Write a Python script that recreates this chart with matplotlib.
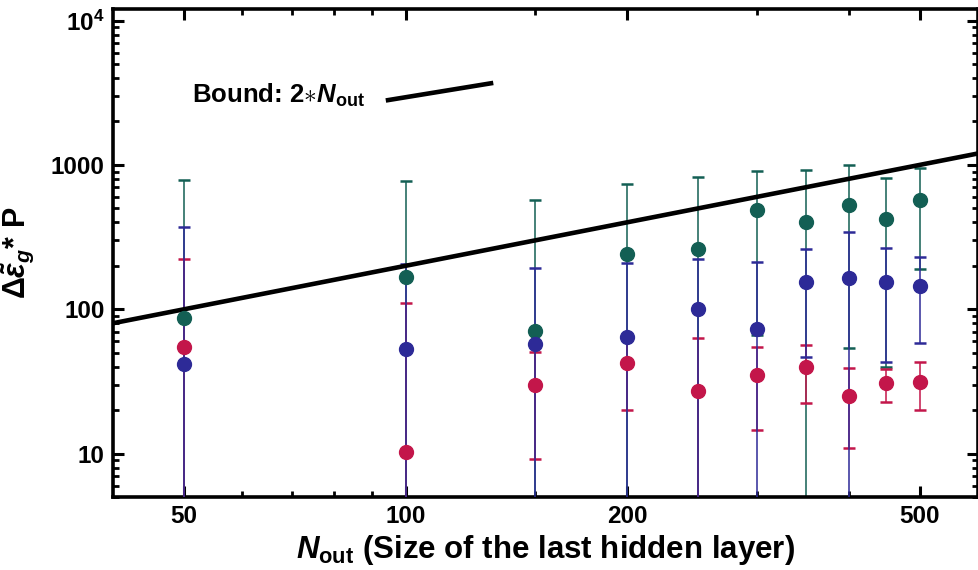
import numpy as np
import matplotlib
matplotlib.use("Agg")
import matplotlib.pyplot as plt

plt.rcParams['font.family'] = ['Liberation Sans', 'DejaVu Sans']
plt.rcParams['font.weight'] = 'bold'
plt.rcParams['axes.labelweight'] = 'bold'
plt.rcParams['mathtext.fontset'] = 'custom'
plt.rcParams['mathtext.rm'] = 'Liberation Sans:bold'
plt.rcParams['mathtext.it'] = 'Liberation Sans:italic:bold'
plt.rcParams['mathtext.bf'] = 'Liberation Sans:bold'

# data
n_out = [50, 100, 150, 200, 250, 300, 350, 400, 450, 500]

green_mean = [87, 167, 71, 241, 261, 487, 402, 527, 425, 571]
green_err = [700, 607, 500, 497, 565, 421, 520, 473, 385, 382]

blue_mean = [42, 53, 57, 64, 100, 73, 154, 164, 154, 144]
blue_err = [329, 152, 136, 145, 122, 139, 107, 179, 111, 86]

red_mean = [54.5, 10.2, 29.7, 42.2, 27, 34.8, 39.5, 24.9, 30.6, 31.4]
red_err = [168, 100, 20.5, 22, 36, 20.3, 17, 14, 8, 11.4]

x_ticks = [50, 100, 200, 500]
y_ticks = [10, 100, 1000, 10000]
y_labels = ['10', '100', '1000', r'$10^4$']

green = '#135f54'
blue = '#2d2a97'
red = '#c3164a'

fig = plt.figure(figsize=(9.79, 5.70), dpi=100)
ax = fig.add_axes([0.1154, 0.128, 0.8836, 0.856])
ax.set_xscale('log')
ax.set_yscale('log')

# bound line 2*N_out
x_line = np.array([40, 600])
ax.plot(x_line, 2 * x_line, color='black', lw=3.3, zorder=5)

for mean, err, col, z in [(green_mean, green_err, green, 2),
                          (red_mean, red_err, red, 3),
                          (blue_mean, blue_err, blue, 4)]:
    ax.errorbar(n_out, mean, yerr=err, fmt='none', ecolor=col, elinewidth=1.1,
                capsize=4, capthick=1.8, zorder=z)
for mean, col in [(green_mean, green), (red_mean, red), (blue_mean, blue)]:
    ax.plot(n_out, mean, 'o', color=col, ms=10, zorder=6)

ax.set_xlim(40, 600)
ax.set_ylim(5, 12000)

ax.set_xticks(x_ticks)
ax.set_xticklabels([str(t) for t in x_ticks])
ax.set_xticks([60, 70, 80, 90, 150, 300, 400], minor=True)
ax.set_xticklabels([], minor=True)
ax.set_yticks(y_ticks)
ax.set_yticklabels(y_labels)
y_minor = [m * 10 ** k for k in range(0, 4) for m in range(2, 10)]
ax.set_yticks([v for v in y_minor if 5 <= v <= 12000], minor=True)
ax.set_yticklabels([], minor=True)

ax.tick_params(which='both', direction='in', top=True, right=True, labelsize=17.5)
ax.tick_params(which='major', length=8, width=2.2, pad=6)
ax.tick_params(which='minor', length=4, width=2)
for s in ax.spines.values():
    s.set_linewidth(2.6)

ax.set_xlabel(r'$N_{\rm out}$ (Size of the last hidden layer)', fontsize=22.5, labelpad=3)
ax.set_ylabel(r'$\Delta\tilde{\varepsilon}_g$* P', fontsize=22)
ax.yaxis.set_label_coords(-0.088, 0.5)

# legend entry drawn like the original
ax.text(0.0913, 0.809, r'Bound: 2$\ast$$N_{\rm out}$', transform=ax.transAxes,
        fontsize=18.5, va='baseline', ha='left')
ax.plot([0.318, 0.437], [0.8135, 0.848], color='black', lw=3.3, transform=ax.transAxes)

fig.savefig('out.png', dpi=100)
